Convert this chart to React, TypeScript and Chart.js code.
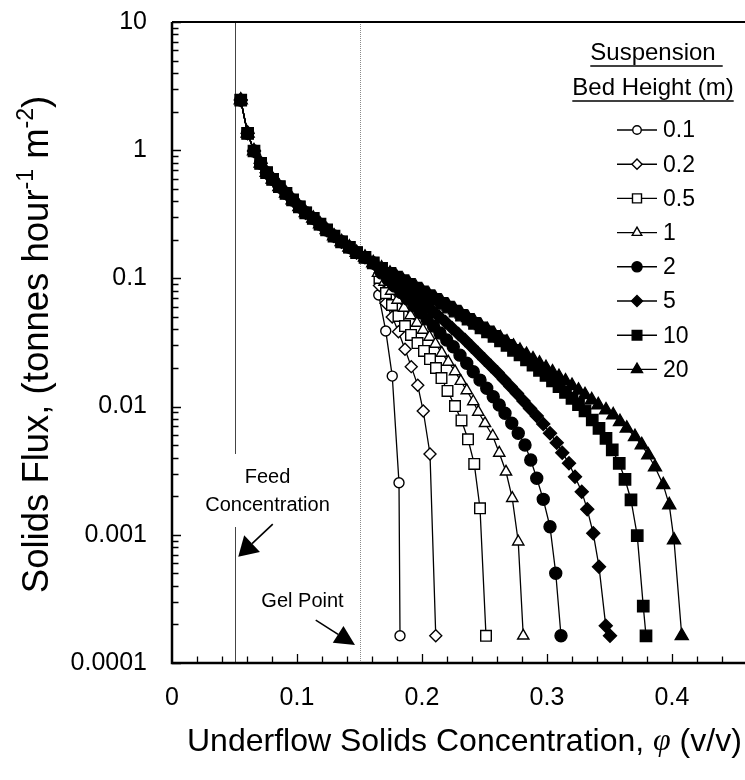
import React, { useEffect, useRef } from "react";
import { Chart, registerables } from "chart.js";

Chart.register(...registerables);

// ---------------- data ----------------
const SERIES_LABELS = ["0.1", "0.2", "0.5", "1", "2", "5", "10", "20"];

// part of the curve shared by every bed height
const SHARED_X = [0.055, 0.0605, 0.0656, 0.0709, 0.0757, 0.0805, 0.0859, 0.0912, 0.0965, 0.1019, 0.107, 0.113, 0.1184, 0.1237, 0.1296, 0.1357, 0.1419, 0.1477, 0.1544, 0.161];
const SHARED_Y = [2.46, 1.355, 0.986, 0.79, 0.668, 0.593, 0.519, 0.461, 0.409, 0.362, 0.325, 0.294, 0.265, 0.239, 0.214, 0.193, 0.175, 0.159, 0.146, 0.132];

const TAIL_01_X = [0.1654, 0.171, 0.1762, 0.1816, 0.1824];
const TAIL_01_Y = [0.0742, 0.0389, 0.0173, 0.00255, 0.000163];

const TAIL_02_X = [0.166, 0.1712, 0.1762, 0.1812, 0.1864, 0.1914, 0.1966, 0.201, 0.2064, 0.211];
const TAIL_02_Y = [0.088, 0.064, 0.05, 0.0384, 0.028, 0.0205, 0.01466, 0.00924, 0.00427, 0.000163];

const TAIL_05_X = [0.166, 0.1712, 0.176, 0.1812, 0.1864, 0.1912, 0.1964, 0.2016, 0.2064, 0.2112, 0.2156, 0.2204, 0.2264, 0.2316, 0.2368, 0.2418, 0.2464, 0.2512];
const TAIL_05_Y = [0.1007, 0.0769, 0.062, 0.0509, 0.0425, 0.0362, 0.0313, 0.0272, 0.0235, 0.02, 0.0167, 0.01324, 0.0101, 0.0078, 0.00556, 0.00357, 0.00161, 0.000163];

const TAIL_1_X = [0.1648, 0.17, 0.1752, 0.1804, 0.1856, 0.1908, 0.196, 0.2008, 0.206, 0.2108, 0.2158, 0.221, 0.2264, 0.231, 0.2358, 0.241, 0.245, 0.2504, 0.2566, 0.2618, 0.2672, 0.2722, 0.277, 0.281];
const TAIL_1_Y = [0.11, 0.0937, 0.0797, 0.0679, 0.0588, 0.0514, 0.0449, 0.0396, 0.0349, 0.0308, 0.0262, 0.0223, 0.0188, 0.0158, 0.01336, 0.01096, 0.00908, 0.00741, 0.0059, 0.00435, 0.0031, 0.00193, 0.000883, 0.000163];

const TAIL_2_X = [0.1676, 0.1728, 0.178, 0.1832, 0.1884, 0.1936, 0.1988, 0.204, 0.2092, 0.2144, 0.2198, 0.225, 0.2304, 0.2358, 0.241, 0.2464, 0.2518, 0.257, 0.2618, 0.2664, 0.2718, 0.277, 0.2824, 0.287, 0.2918, 0.297, 0.3024, 0.307, 0.3112];
const TAIL_2_Y = [0.11, 0.098, 0.0873, 0.0776, 0.0691, 0.0609, 0.0542, 0.0482, 0.0425, 0.0375, 0.0331, 0.0293, 0.0252, 0.0218, 0.0187, 0.0161, 0.0139, 0.01194, 0.01028, 0.00887, 0.00741, 0.0062, 0.00502, 0.00383, 0.00276, 0.00189, 0.001156, 0.000501, 0.000163];

const TAIL_5_X = [0.1668, 0.172, 0.1772, 0.1824, 0.1876, 0.1928, 0.198, 0.2032, 0.2084, 0.2136, 0.2188, 0.224, 0.2292, 0.2344, 0.2396, 0.2448, 0.25, 0.2552, 0.2604, 0.2656, 0.2708, 0.276, 0.2812, 0.2864, 0.2918, 0.297, 0.3024, 0.3078, 0.3122, 0.3176, 0.3224, 0.3278, 0.3322, 0.337, 0.3416, 0.347, 0.3504];
const TAIL_5_Y = [0.1163, 0.1063, 0.0972, 0.0888, 0.0812, 0.0742, 0.0679, 0.0615, 0.0557, 0.0504, 0.0457, 0.041, 0.0368, 0.0331, 0.0294, 0.0262, 0.0233, 0.0207, 0.01845, 0.01627, 0.01435, 0.01266, 0.01106, 0.00966, 0.00845, 0.00731, 0.00619, 0.00523, 0.00437, 0.00361, 0.00284, 0.00217, 0.00158, 0.001027, 0.000564, 0.000195, 0.000163];

const TAIL_10_X = [0.1677, 0.1744, 0.1796, 0.1848, 0.19, 0.1952, 0.2004, 0.2056, 0.2108, 0.216, 0.2212, 0.2264, 0.2316, 0.2368, 0.242, 0.2472, 0.2524, 0.2576, 0.2628, 0.268, 0.2732, 0.2784, 0.2836, 0.2888, 0.294, 0.2992, 0.3044, 0.3096, 0.3148, 0.32, 0.3252, 0.3304, 0.3362, 0.3416, 0.3472, 0.3522, 0.3578, 0.3624, 0.3672, 0.3722, 0.377, 0.3792];
const TAIL_10_Y = [0.12, 0.1096, 0.1025, 0.096, 0.0898, 0.084, 0.0785, 0.0733, 0.0685, 0.0639, 0.0596, 0.0555, 0.0516, 0.048, 0.0446, 0.0412, 0.0382, 0.0353, 0.0325, 0.03, 0.0275, 0.0253, 0.0231, 0.0211, 0.0192, 0.0175, 0.01584, 0.01432, 0.0129, 0.01159, 0.01038, 0.00927, 0.00786, 0.00677, 0.00566, 0.00459, 0.00361, 0.00271, 0.00187, 0.000984, 0.000278, 0.000163];

const TAIL_20_X = [0.1677, 0.1744, 0.1796, 0.1848, 0.19, 0.1952, 0.2004, 0.2056, 0.2108, 0.216, 0.2212, 0.2264, 0.2316, 0.2368, 0.242, 0.2472, 0.2524, 0.2576, 0.2628, 0.268, 0.2732, 0.2784, 0.2836, 0.2888, 0.294, 0.2992, 0.3044, 0.3096, 0.3148, 0.32, 0.3252, 0.3304, 0.3358, 0.341, 0.3472, 0.353, 0.3584, 0.3638, 0.3704, 0.3758, 0.381, 0.3864, 0.393, 0.3978, 0.4016, 0.4078];
const TAIL_20_Y = [0.12, 0.1096, 0.1029, 0.0966, 0.0906, 0.0849, 0.0795, 0.0743, 0.0696, 0.065, 0.0607, 0.0567, 0.0528, 0.0493, 0.0459, 0.0427, 0.0397, 0.0369, 0.0343, 0.0318, 0.0295, 0.0274, 0.0254, 0.0235, 0.0217, 0.0201, 0.01855, 0.0171, 0.01578, 0.01456, 0.0134, 0.01234, 0.01126, 0.0103, 0.0094, 0.0086, 0.00762, 0.00677, 0.00582, 0.00502, 0.00419, 0.00338, 0.00245, 0.00171, 0.00091, 0.000163];

// axes
const X_MIN = 0;
const X_MAX = 0.4584;
const X_TICKS = [0, 0.1, 0.2, 0.3, 0.4];
const X_TICK_LABELS = ["0", "0.1", "0.2", "0.3", "0.4"];
const X_MINOR_STEP = 0.02;
const Y_MIN = 0.0001;
const Y_MAX = 10;
const Y_TICKS = [0.0001, 0.001, 0.01, 0.1, 1, 10];
const Y_TICK_LABELS = ["0.0001", "0.001", "0.01", "0.1", "1", "10"];

// annotations (data units)
const FEED_X = 0.05;
const FEED_GAP = [0.00427, 0.00115];
const FEED_TEXT = ["Feed", "Concentration"];
const FEED_TEXT_POS = [[0.0764, 0.0028], [0.0764, 0.0017]];
const FEED_ARROW = [[0.0806, 0.00121], [0.053, 0.000675]];
const GEL_X = 0.15;
const GEL_TEXT = "Gel Point";
const GEL_TEXT_POS = [0.1044, 0.0003];
const GEL_ARROW = [[0.115, 0.000216], [0.1464, 0.000138]];

const LEGEND_TITLE = ["Suspension", "Bed Height (m)"];
const X_TITLE = ["Underflow Solids Concentration, ", "\u03c6", " (v/v)"];
const Y_TITLE = ["Solids Flux, (tonnes hour", "-1", " m", "-2", ")"];

// ---------------- styles ----------------
const FONT = "'Liberation Sans', Arial, Helvetica, sans-serif";
const MARKERS = [
  { style: "circle", r: 5, fill: false },
  { style: "rectRot", r: 6, fill: false },
  { style: "rect", r: 7.5, fill: false },
  { style: "triangle", r: 6.5, fill: false },
  { style: "circle", r: 6, fill: true },
  { style: "rectRot", r: 6.5, fill: true },
  { style: "rect", r: 8, fill: true },
  { style: "triangle", r: 7.5, fill: true },
];
const TAILS = [
  [TAIL_01_X, TAIL_01_Y], [TAIL_02_X, TAIL_02_Y], [TAIL_05_X, TAIL_05_Y], [TAIL_1_X, TAIL_1_Y],
  [TAIL_2_X, TAIL_2_Y], [TAIL_5_X, TAIL_5_Y], [TAIL_10_X, TAIL_10_Y], [TAIL_20_X, TAIL_20_Y],
];

function drawMarker(ctx: CanvasRenderingContext2D, style: string, x: number, y: number, r: number, fill: boolean) {
  ctx.beginPath();
  if (style === "circle") {
    ctx.arc(x, y, r, 0, Math.PI * 2);
  } else if (style === "rect") {
    const s = Math.SQRT1_2 * r;
    ctx.rect(x - s, y - s, 2 * s, 2 * s);
  } else if (style === "rectRot") {
    ctx.moveTo(x - r, y); ctx.lineTo(x, y - r); ctx.lineTo(x + r, y); ctx.lineTo(x, y + r); ctx.closePath();
  } else {
    const a = (2 * Math.PI) / 3;
    ctx.moveTo(x, y - r);
    ctx.lineTo(x + Math.sin(a) * r, y - Math.cos(a) * r);
    ctx.lineTo(x + Math.sin(2 * a) * r, y - Math.cos(2 * a) * r);
    ctx.closePath();
  }
  ctx.fillStyle = fill ? "#000" : "#fff";
  ctx.fill();
  ctx.lineWidth = 1.4;
  ctx.strokeStyle = "#000";
  ctx.stroke();
}

function arrow(ctx: CanvasRenderingContext2D, x1: number, y1: number, x2: number, y2: number, len: number, half: number) {
  const dx = x2 - x1, dy = y2 - y1;
  const d = Math.hypot(dx, dy);
  const ux = dx / d, uy = dy / d;
  const bx = x2 - ux * len, by = y2 - uy * len;
  ctx.beginPath();
  ctx.moveTo(x1, y1); ctx.lineTo(bx, by);
  ctx.lineWidth = 1.6; ctx.strokeStyle = "#000"; ctx.stroke();
  ctx.beginPath();
  ctx.moveTo(x2, y2);
  ctx.lineTo(bx - uy * half, by + ux * half);
  ctx.lineTo(bx + uy * half, by - ux * half);
  ctx.closePath();
  ctx.fillStyle = "#000"; ctx.fill();
}

const decor = {
  id: "decor",
  beforeDatasetsDraw(chart: any) {
    const { ctx, chartArea: a, scales } = chart;
    const x = scales.x, y = scales.y;
    ctx.save();
    const fx = Math.round(x.getPixelForValue(FEED_X)) + 0.5;
    ctx.strokeStyle = "#444"; ctx.lineWidth = 1;
    ctx.beginPath();
    ctx.moveTo(fx, a.top); ctx.lineTo(fx, y.getPixelForValue(FEED_GAP[0]));
    ctx.moveTo(fx, y.getPixelForValue(FEED_GAP[1])); ctx.lineTo(fx, a.bottom);
    ctx.stroke();
    const gx = Math.round(x.getPixelForValue(GEL_X)) + 0.5;
    ctx.strokeStyle = "#8a8a8a"; ctx.setLineDash([1, 1]);
    ctx.beginPath(); ctx.moveTo(gx, a.top); ctx.lineTo(gx, a.bottom); ctx.stroke();
    ctx.restore();
  },
  afterDraw(chart: any) {
    const { ctx, chartArea: a, scales } = chart;
    const x = scales.x, y = scales.y;
    ctx.save();
    // axis frame
    ctx.strokeStyle = "#000";
    ctx.lineWidth = 2.5;
    ctx.beginPath();
    ctx.moveTo(a.left, a.top); ctx.lineTo(a.left, a.bottom); ctx.lineTo(a.right, a.bottom);
    ctx.stroke();
    ctx.lineWidth = 2;
    ctx.beginPath(); ctx.moveTo(a.left, a.top); ctx.lineTo(a.right, a.top); ctx.stroke();
    // x ticks (inside)
    ctx.lineWidth = 1.3;
    ctx.beginPath();
    const nx = Math.floor((X_MAX - X_MIN) / X_MINOR_STEP + 1e-6);
    for (let i = 1; i <= nx; i++) {
      const v = X_MIN + i * X_MINOR_STEP;
      const px = Math.round(x.getPixelForValue(v)) + 0.5;
      const major = i % 5 === 0;
      ctx.moveTo(px, a.bottom); ctx.lineTo(px, a.bottom - (major ? 9 : 6.5));
    }
    // y ticks (inside)
    for (let k = 0; k < Y_TICKS.length; k++) {
      const d = Y_TICKS[k];
      const limit = k === Y_TICKS.length - 1 ? 1 : 9;
      for (let m = 1; m <= limit; m++) {
        const py = Math.round(y.getPixelForValue(d * m)) + 0.5;
        ctx.moveTo(a.left, py); ctx.lineTo(a.left + (m === 1 ? 9 : 6.5), py);
      }
    }
    ctx.stroke();

    // annotations
    ctx.fillStyle = "#000";
    ctx.font = `20px ${FONT}`;
    ctx.textAlign = "center"; ctx.textBaseline = "middle";
    FEED_TEXT.forEach((t, i) => {
      ctx.fillText(t, x.getPixelForValue(FEED_TEXT_POS[i][0]), y.getPixelForValue(FEED_TEXT_POS[i][1]));
    });
    ctx.fillText(GEL_TEXT, x.getPixelForValue(GEL_TEXT_POS[0]), y.getPixelForValue(GEL_TEXT_POS[1]));
    arrow(ctx, x.getPixelForValue(FEED_ARROW[0][0]), y.getPixelForValue(FEED_ARROW[0][1]),
      x.getPixelForValue(FEED_ARROW[1][0]), y.getPixelForValue(FEED_ARROW[1][1]), 19, 11.5);
    arrow(ctx, x.getPixelForValue(GEL_ARROW[0][0]), y.getPixelForValue(GEL_ARROW[0][1]),
      x.getPixelForValue(GEL_ARROW[1][0]), y.getPixelForValue(GEL_ARROW[1][1]), 20, 10);

    // legend
    const lcx = a.right - 92;
    ctx.font = `24px ${FONT}`;
    ctx.fillStyle = "#000";
    ctx.textAlign = "center"; ctx.textBaseline = "middle";
    const titleY = [a.top + 31, a.top + 66];
    LEGEND_TITLE.forEach((t, i) => {
      ctx.fillText(t, lcx, titleY[i]);
      const w = ctx.measureText(t).width;
      const extra = i === 0 ? 7 : 0;
      ctx.beginPath();
      ctx.lineWidth = 1.5;
      ctx.moveTo(lcx - w / 2, titleY[i] + 13); ctx.lineTo(lcx + w / 2 + extra, titleY[i] + 13);
      ctx.stroke();
    });
    ctx.font = `23px ${FONT}`;
    ctx.textAlign = "left";
    SERIES_LABELS.forEach((lab, i) => {
      const ly = a.top + 108 + i * 34.2;
      ctx.beginPath(); ctx.lineWidth = 1.4; ctx.strokeStyle = "#000";
      ctx.moveTo(lcx - 36, ly); ctx.lineTo(lcx + 4, ly); ctx.stroke();
      const m = MARKERS[i];
      drawMarker(ctx, m.style, lcx - 16, ly, m.r * 0.85, m.fill);
      ctx.fillStyle = "#000";
      ctx.fillText(lab, lcx + 10, ly + 1);
    });

    // x title
    ctx.textAlign = "left"; ctx.textBaseline = "middle";
    let px = a.left + 15;
    const ty = 742;
    X_TITLE.forEach((t, i) => {
      ctx.font = i === 1 ? `italic 32px 'Liberation Serif', serif` : `32px ${FONT}`;
      ctx.fillText(t, px, ty);
      px += ctx.measureText(t).width;
    });

    // y title (rotated)
    ctx.save();
    ctx.translate(38, (a.top + a.bottom) / 2 + 2);
    ctx.rotate(-Math.PI / 2);
    const parts = Y_TITLE.map((t, i) => ({ t, sup: i === 1 || i === 3 }));
    const mainFont = `36.5px ${FONT}`;
    const supFont = `23px ${FONT}`;
    let total = 0;
    parts.forEach((p) => { ctx.font = p.sup ? supFont : mainFont; total += ctx.measureText(p.t).width; });
    let pos = -total / 2;
    parts.forEach((p) => {
      ctx.font = p.sup ? supFont : mainFont;
      ctx.fillText(p.t, pos, p.sup ? -11 : 0);
      pos += ctx.measureText(p.t).width;
    });
    ctx.restore();

    ctx.restore();
  },
};

export default function App() {
  const ref = useRef<HTMLCanvasElement | null>(null);
  useEffect(() => {
    if (!ref.current) return;
    const datasets = SERIES_LABELS.map((label, i) => {
      const xs = SHARED_X.concat(TAILS[i][0]);
      const ys = SHARED_Y.concat(TAILS[i][1]);
      const m = MARKERS[i];
      return {
        label,
        data: xs.map((v, k) => ({ x: v, y: ys[k] })),
        showLine: true,
        borderColor: "#000",
        borderWidth: 1.3,
        pointStyle: m.style,
        pointRadius: m.r,
        pointHoverRadius: m.r,
        pointBackgroundColor: m.fill ? "#000" : "#fff",
        pointBorderColor: "#000",
        pointBorderWidth: 1.4,
        tension: 0,
        order: SERIES_LABELS.length - i,
      };
    });
    const chart = new Chart(ref.current, {
      type: "scatter",
      data: { datasets },
      options: {
        animation: false,
        responsive: false,
        devicePixelRatio: 1,
        layout: { autoPadding: false, padding: { top: 22, right: 0, bottom: 0, left: 0 } },
        plugins: { legend: { display: false }, tooltip: { enabled: false } },
        scales: {
          x: {
            type: "linear",
            min: X_MIN,
            max: X_MAX,
            grid: { display: false, drawTicks: false },
            border: { display: false },
            afterBuildTicks: (s: any) => { s.ticks = X_TICKS.map((v) => ({ value: v })); },
            afterFit: (s: any) => { s.height = 117; s.paddingLeft = 0; s.paddingRight = 0; },
            ticks: {
              autoSkip: false,
              maxRotation: 0,
              padding: 20,
              color: "#000",
              font: { family: FONT, size: 25 },
              callback: (_v: any, idx: number) => X_TICK_LABELS[idx],
            },
          },
          y: {
            type: "logarithmic",
            min: Y_MIN,
            max: Y_MAX,
            grid: { display: false, drawTicks: false },
            border: { display: false },
            afterBuildTicks: (s: any) => { s.ticks = Y_TICKS.map((v) => ({ value: v })); },
            afterFit: (s: any) => { s.width = 172; s.paddingTop = 0; s.paddingBottom = 0; },
            ticks: {
              autoSkip: false,
              padding: 25,
              color: "#000",
              font: { family: FONT, size: 25 },
              callback: (_v: any, idx: number) => Y_TICK_LABELS[idx],
            },
          },
        },
      },
      plugins: [decor],
    } as any);
    return () => chart.destroy();
  }, []);
  return (
    <div style={{ position: "absolute", left: 0, top: 0, width: 745, height: 780, background: "#fff" }}>
      <canvas ref={ref} width={745} height={780} style={{ display: "block", width: 745, height: 780 }} />
    </div>
  );
}
